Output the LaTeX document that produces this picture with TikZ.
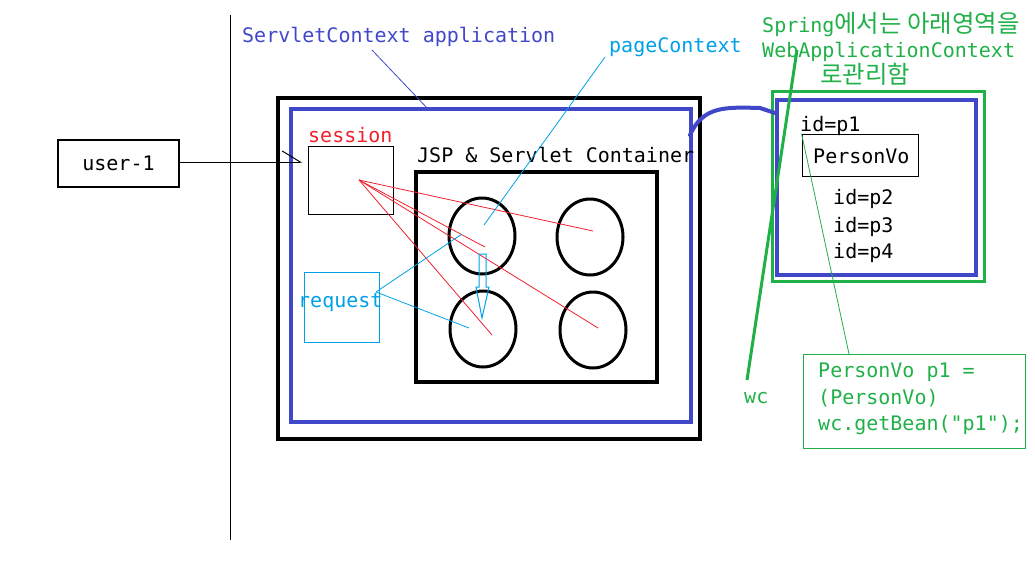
\documentclass[tikz,border=0pt]{standalone}
\usepackage{fontspec}
\setmonofont{DejaVu Sans Mono}
\newfontfamily\kofont[Scale=1.22]{Noto Sans CJK KR}
\usetikzlibrary{
  arrows.meta,
  positioning,
  shapes.geometric
}
\definecolor{ctxBlue}{HTML}{4048C8}
\definecolor{ctxRed}{HTML}{F0202C}
\definecolor{ctxCyan}{HTML}{00A0E8}
\definecolor{ctxGreen}{HTML}{20B048}
\tikzset{
  bigBox/.style={draw, line width=3.5pt, inner sep=0pt},
  thinBox/.style={draw, line width=1pt, inner sep=0pt},
  jspOval/.style={
    draw,
    ellipse,
    line width=3pt,
    minimum width=66pt,
    minimum height=76pt,
    inner sep=0pt
  },
  txt/.style={anchor=base west, inner sep=0pt, font=\ttfamily\fontsize{20}{24}\selectfont},
  sessLine/.style={ctxRed, line width=0.8pt},
  reqLine/.style={ctxCyan, line width=0.8pt}
}

\begin{document}
\begin{tikzpicture}[x=1pt,y=-1pt]
  \useasboundingbox (0,0) rectangle (1035,574);
  \draw[line width=1pt] (230,15) -- (230,540);

  % servlet context with container
  \node[bigBox, minimum width=422pt, minimum height=341pt] (app) at (489,268.5) {};
  \node[bigBox, draw=ctxBlue, minimum width=400pt, minimum height=313pt] (appInner) at (491,265.5) {};
  \node[bigBox, minimum width=241pt, minimum height=210pt] (container) at (536.5,277) {};
  \node[thinBox, minimum width=85pt, minimum height=68pt] (sessBox) at (350.5,180) {};
  \node[thinBox, draw=ctxCyan, minimum width=75pt, minimum height=70pt] (reqBox) at (341.5,307) {};
  \node[jspOval] (jsp1) at (482,236) {};
  \node[jspOval] (jsp2) at (590,237) {};
  \node[jspOval] (jsp3) at (483,329) {};
  \node[jspOval] (jsp4) at (593,330) {};
  \node[thinBox, line width=1.3pt, minimum width=121pt, minimum height=47pt,
    font=\ttfamily\fontsize{20}{24}\selectfont] (user) at (118.5,163.5) {user-1\hspace{8pt}};

  \node[txt, ctxBlue] (appLbl) at (242,42) {ServletContext application};
  \node[txt, ctxRed] (sessLbl) at (308,142) {session};
  \node[txt] (contLbl) at (417,162) {JSP \& Servlet Container};
  \node[txt, ctxCyan] (pageLbl) at (609,52) {pageContext};
  \node[txt, ctxCyan] (reqLbl) at (298,307) {request};

  % spring side
  \node[bigBox, draw=ctxGreen, line width=3pt, minimum width=212pt, minimum height=190pt] (webCtx) at (878,186) {};
  \node[bigBox, draw=ctxBlue, minimum width=199pt, minimum height=175pt] (beanCtx) at (876.5,187.5) {};
  \node[thinBox, minimum width=116pt, minimum height=42pt] (pvo) at (860,155) {};
  \node[txt] (pvoLbl) at (813,163) {PersonVo};
  \node[txt] (id1) at (800,131) {id=p1};
  \node[txt] (id2) at (833,204) {id=p2};
  \node[txt] (id3) at (833,232) {id=p3};
  \node[txt] (id4) at (833,258) {id=p4};
  \node[txt, ctxGreen] (springA) at (762,32) {Spring{\kofont 에서는 아래영역을}};
  \node[txt, ctxGreen] (springB) at (762,57) {WebApplicationContext};
  \node[txt, ctxGreen] (springC) at (820,83) {\kofont 로관리함};
  \node[txt, ctxGreen] (wcLbl) at (744,403) {wc};
  \node[thinBox, draw=ctxGreen, minimum width=222pt, minimum height=94pt] (code) at (914,401) {};
  \node[txt, ctxGreen] (codeA) at (818,377) {PersonVo p1 =};
  \node[txt, ctxGreen] (codeB) at (818,404) {(PersonVo)};
  \node[txt, ctxGreen] (codeC) at (818,430) {wc.getBean("p1");};

  % connector ends
  \coordinate (appFrom) at (372,50);
  \coordinate (appTo) at (428,109);
  \coordinate (userTip) at (302,162);
  \coordinate (sessPt) at (359,180);
  \coordinate (r1) at (593,231);
  \coordinate (r2) at (485,247);
  \coordinate (r3) at (598,328);
  \coordinate (r4) at (492,335);
  \coordinate (reqPt) at (376,292);
  \coordinate (q1) at (462,234);
  \coordinate (q2) at (469,328);
  \coordinate (pageFrom) at (605,57);
  \coordinate (pageTo) at (484,225);
  \coordinate (curveA) at (690,135);
  \coordinate (curveB) at (775,113);
  \coordinate (wcTop) at (797,50);
  \coordinate (wcEnd) at (747,380);
  \coordinate (codeTop) at (849,354);

  \draw[ctxBlue, line width=0.8pt] (appFrom) -- (appTo);
  \draw[line width=1pt, -{Straight Barb[left, length=18pt, width=22pt]}] (user.east |- userTip) -- (userTip);
  \foreach \t in {r1,r2,r3,r4}
    \draw[sessLine] (sessPt) -- (\t);
  \draw[reqLine] (reqPt) -- (q1);
  \draw[reqLine] (reqPt) -- (q2);
  \draw[reqLine] (pageFrom) -- (pageTo);
  \draw[ctxCyan, line width=1pt] (479,254) -- (486,254) -- (486,287) -- (489,287)
    -- (482,318) -- (476,287) -- (479,287) -- cycle;
  \draw[ctxBlue, line width=4pt, line cap=round] (curveA) .. controls (703,106) and (725,107) .. (760,108) -- (curveB);
  \draw[ctxGreen, line width=3pt] (wcTop) -- (wcEnd);
  \draw[ctxGreen, line width=0.8pt] (pvo.north west) -- (codeTop);
\end{tikzpicture}
\end{document}
